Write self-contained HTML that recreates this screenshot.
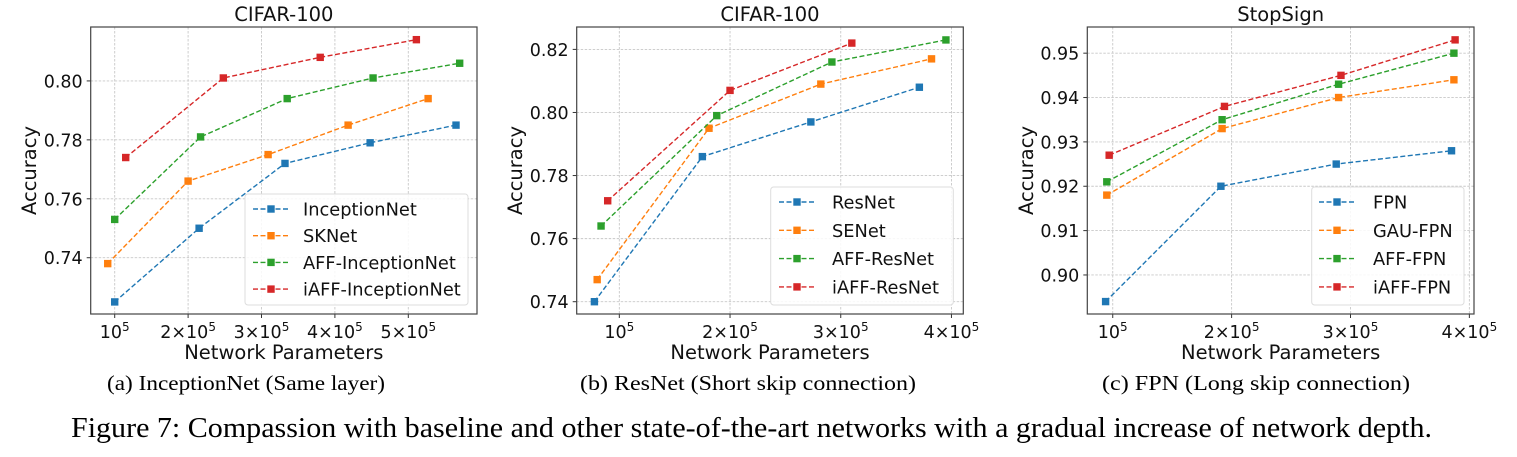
<!DOCTYPE html>
<html><head><meta charset="utf-8"><style>
body{margin:0;background:#fff;}
svg{display:block;font-family:"DejaVu Sans","Liberation Sans",sans-serif;}
.cap{font-family:"Liberation Serif",serif;}
</style></head><body>
<svg id="fig" width="1517" height="457" viewBox="0 0 1517 457" xmlns="http://www.w3.org/2000/svg">
<text class="cap" x="107" y="390" font-size="21" textLength="278" lengthAdjust="spacingAndGlyphs">(a) InceptionNet (Same layer)</text>
<text class="cap" x="580" y="390" font-size="21" textLength="336" lengthAdjust="spacingAndGlyphs">(b) ResNet (Short skip connection)</text>
<text class="cap" x="1102" y="390" font-size="21" textLength="308" lengthAdjust="spacingAndGlyphs">(c) FPN (Long skip connection)</text>
<text class="cap" x="71" y="437" font-size="29" textLength="1361" lengthAdjust="spacingAndGlyphs">Figure 7: Compassion with baseline and other state-of-the-art networks with a gradual increase of network depth.</text>
</svg>
<script>
const colors=['#1f77b4','#ff7f0e','#2ca02c','#d62728'];
// Panel A
const aNames=['InceptionNet','SKNet','AFF-InceptionNet','iAFF-InceptionNet'];
const aX=[[1.0,2.15,3.32,4.48,5.65],[0.905,2.0,3.09,4.18,5.27],[1.0,2.17,3.35,4.52,5.70],[1.15,2.48,3.80,5.11]];
const aY=[[0.725,0.750,0.772,0.779,0.785],[0.738,0.766,0.775,0.785,0.794],[0.753,0.781,0.794,0.801,0.806],[0.774,0.801,0.808,0.814]];
const aYTicks=[0.74,0.76,0.78,0.80];
const aXTicks=[1,2,3,4,5];
// Panel B
const bNames=['ResNet','SENet','AFF-ResNet','iAFF-ResNet'];
const bX=[[0.775,1.75,2.73,3.71],[0.80,1.81,2.82,3.82],[0.835,1.88,2.92,3.95],[0.895,2.0,3.10]];
const bY=[[0.740,0.786,0.797,0.808],[0.747,0.795,0.809,0.817],[0.764,0.799,0.816,0.823],[0.772,0.807,0.822]];
const bYTicks=[0.74,0.76,0.78,0.80,0.82];
const bXTicks=[1,2,3,4];
// Panel C
const cNames=['FPN','GAU-FPN','AFF-FPN','iAFF-FPN'];
const cX=[[0.94,1.91,2.88,3.85],[0.95,1.92,2.90,3.87],[0.95,1.92,2.90,3.87],[0.97,1.94,2.92,3.88]];
const cY=[[0.894,0.920,0.925,0.928],[0.918,0.933,0.940,0.944],[0.921,0.935,0.943,0.950],[0.927,0.938,0.945,0.953]];
const cYTicks=[0.90,0.91,0.92,0.93,0.94,0.95];
const cXTicks=[1,2,3,4];

const NS='http://www.w3.org/2000/svg';
const svg=document.getElementById('fig');
function mk(tag,attrs,parent){const e=document.createElementNS(NS,tag);for(const k in attrs)e.setAttribute(k,attrs[k]);(parent||svg).appendChild(e);return e;}

function panel(id,title,names,X,Y,yTicks,xTicks,box,xr,yr,leg){
  const g=mk('g',{});
  
  
  const sx=v=>box.l+(v-xr[0])/(xr[1]-xr[0])*(box.r-box.l);
  const sy=v=>box.b-(v-yr[0])/(yr[1]-yr[0])*(box.b-box.t);
  yTicks.forEach(t=>{
    const ln=mk('line',{x1:box.l,x2:box.r,y1:sy(t),y2:sy(t),stroke:'#c8c8c8','stroke-width':0.9,'stroke-dasharray':'2.5,1.5'},g);
    
    
    const tx=mk('text',{x:box.l-8,y:sy(t)+6.5,'font-size':17.5,'text-anchor':'end',fill:'#111'},g);
    tx.textContent=t.toFixed(2);
    
    
    mk('line',{x1:box.l-4,x2:box.l,y1:sy(t),y2:sy(t),stroke:'#333','stroke-width':1},g);
  });
  xTicks.forEach(t=>{
    const ln=mk('line',{y1:box.t,y2:box.b,x1:sx(t),x2:sx(t),stroke:'#c8c8c8','stroke-width':0.9,'stroke-dasharray':'2.5,1.5'},g);
    
    
    mk('line',{y1:box.b,y2:box.b+4,x1:sx(t),x2:sx(t),stroke:'#333','stroke-width':1},g);
    const tx=mk('text',{x:sx(t),y:box.b+24,'font-size':17.5,'text-anchor':'middle',fill:'#111'},g);
    
    
    if(t===1){tx.innerHTML='10<tspan font-size="12" dy="-7">5</tspan>';}
    else tx.innerHTML=t+'×10<tspan font-size="12" dy="-7">5</tspan>';
  });
  X.forEach((xs,i)=>{
    const sg=mk('g',{},g);
    
    
    const pts=xs.map((x,j)=>sx(x)+','+sy(Y[i][j])).join(' ');
    const pl=mk('polyline',{points:pts,fill:'none',stroke:colors[i],'stroke-width':1.4,'stroke-dasharray':'5,2.5'},sg);
    
    
    xs.forEach((x,j)=>{
      const r=mk('rect',{x:sx(x)-3.7,y:sy(Y[i][j])-3.7,width:7.4,height:7.4,fill:colors[i]},sg);
      
      
    });
  });
  const fr=mk('rect',{x:box.l,y:box.t,width:box.r-box.l,height:box.b-box.t,fill:'none',stroke:'#444','stroke-width':1.2},g);
  
  
  const tt=mk('text',{x:(box.l+box.r)/2,y:21,'font-size':19.5,'text-anchor':'middle',fill:'#111'},g);
  tt.textContent=title;
  
  
  const xl=mk('text',{x:(box.l+box.r)/2,y:359,'font-size':19.5,'text-anchor':'middle',fill:'#111'},g);
  xl.textContent='Network Parameters';
  
  
  const yl=mk('text',{x:0,y:0,'font-size':19.5,'text-anchor':'middle',fill:'#111',transform:`translate(${leg.yl},${(box.t+box.b)/2}) rotate(-90)`},g);
  yl.textContent='Accuracy';
  
  
  const lg=mk('g',{},g);
  
  
  mk('rect',{x:leg.x,y:leg.y,width:leg.w,height:leg.h,rx:3,fill:'#fff','fill-opacity':0.85,stroke:'#ddd','stroke-width':1},lg);
  names.forEach((n,i)=>{
    const cy=leg.y0+i*leg.dy;
    const e=mk('g',{},lg);
    
    
    mk('line',{x1:leg.lx,x2:leg.lx+36,y1:cy,y2:cy,stroke:colors[i],'stroke-width':1.4,'stroke-dasharray':'5,2.5'},e);
    mk('rect',{x:leg.lx+18-3.7,y:cy-3.7,width:7.4,height:7.4,fill:colors[i]},e);
    const t=mk('text',{x:leg.tx,y:cy+6.5,'font-size':17.8,fill:'#111'},e);
    t.textContent=n;
  });
}
panel('a','CIFAR-100',aNames,aX,aY,aYTicks,aXTicks,{l:90.7,r:477,t:27,b:314},[0.673,5.936],[0.7209,0.8183],
  {x:245,y:194,w:223,h:111,y0:209,dy:26.7,lx:253,tx:303,yl:36});
panel('b','CIFAR-100',bNames,bX,bY,bYTicks,bXTicks,{l:576.7,r:963.3,t:27,b:314},[0.615,4.107],[0.7361,0.8271],
  {x:770.7,y:187,w:182.6,h:118,y0:202,dy:28.3,lx:779,tx:832,yl:522});
panel('c','StopSign',cNames,cX,cY,cYTicks,cXTicks,{l:1087.3,r:1474,t:27,b:314},[0.786,4.039],[0.8912,0.9559],
  {x:1311.7,y:187,w:152.3,h:118,y0:202,dy:28.3,lx:1319,tx:1373,yl:1033});
</script>
</body></html>
